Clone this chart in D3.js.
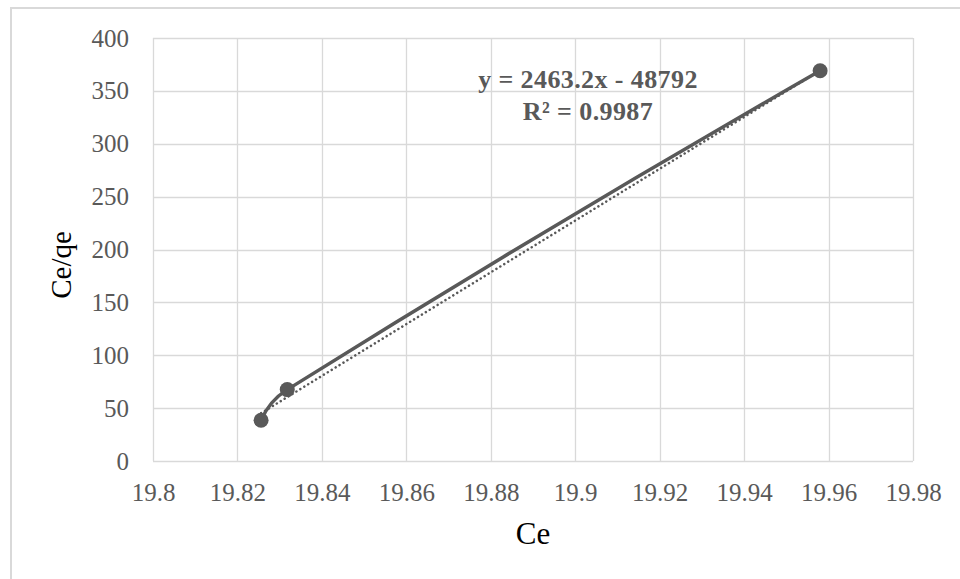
<!DOCTYPE html>
<html>
<head>
<meta charset="utf-8">
<script src="https://cdn.jsdelivr.net/npm/d3@7"></script>
<style>
  html, body { margin: 0; padding: 0; background: #fff; }
  svg { display: block; }
</style>
</head>
<body>
<svg id="chart" width="960" height="579"></svg>
<script>
// Data
const ceValues = [19.8256, 19.8318, 19.958];
const ceQeValues = [38.5, 67.5, 369];
const xTicks = [19.8, 19.82, 19.84, 19.86, 19.88, 19.9, 19.92, 19.94, 19.96, 19.98];
const yTicks = [0, 50, 100, 150, 200, 250, 300, 350, 400];
const equationLines = ["y = 2463.2x - 48792", "R² = 0.9987"];

const svg = d3.select("#chart");
const W = 960, H = 579;
const plot = { left: 153, top: 38, right: 913, bottom: 461 };
const grey = "#595959";
const font = "'Liberation Serif', 'Times New Roman', serif";

// Spreadsheet-style smoothing curve for d3.line
function SmoothCurve(context) { this._context = context; }
SmoothCurve.prototype = {
  areaStart() { this._line = 0; },
  areaEnd() { this._line = NaN; },
  lineStart() { this._p = []; },
  point(x, y) { this._p.push([+x, +y]); },
  lineEnd() {
    const p = this._p, n = p.length, ctx = this._context;
    if (!n) return;
    ctx.moveTo(p[0][0], p[0][1]);
    if (n === 1) return;
    const unit = v => { const l = Math.hypot(v[0], v[1]) || 1; return [v[0] / l, v[1] / l]; };
    const T = new Array(n);
    for (let i = 1; i < n - 1; i++) T[i] = unit([p[i + 1][0] - p[i - 1][0], p[i + 1][1] - p[i - 1][1]]);
    const reflect = (t, c) => { const d = t[0] * c[0] + t[1] * c[1]; return [2 * d * c[0] - t[0], 2 * d * c[1] - t[1]]; };
    if (n === 2) { T[0] = T[1] = unit([p[1][0] - p[0][0], p[1][1] - p[0][1]]); }
    else {
      T[0] = reflect(T[1], unit([p[1][0] - p[0][0], p[1][1] - p[0][1]]));
      T[n - 1] = reflect(T[n - 2], unit([p[n - 1][0] - p[n - 2][0], p[n - 1][1] - p[n - 2][1]]));
    }
    for (let i = 0; i < n - 1; i++) {
      const L = Math.hypot(p[i + 1][0] - p[i][0], p[i + 1][1] - p[i][1]) / 3;
      ctx.bezierCurveTo(p[i][0] + T[i][0] * L, p[i][1] + T[i][1] * L,
        p[i + 1][0] - T[i + 1][0] * L, p[i + 1][1] - T[i + 1][1] * L,
        p[i + 1][0], p[i + 1][1]);
    }
  }
};
const curveSmooth = context => new SmoothCurve(context);

// chart border
svg.append("rect").attr("x", 11).attr("y", 8).attr("width", W).attr("height", H)
  .attr("fill", "#fff").attr("stroke", "#d9d9d9").attr("stroke-width", 2);

const x = d3.scaleLinear().domain([19.8, 19.98]).range([plot.left, plot.right]);
const y = d3.scaleLinear().domain([0, 400]).range([plot.bottom, plot.top]);

// gridlines
const grid = svg.append("g");
grid.selectAll("line.v").data(xTicks).join("line")
  .attr("x1", d => Math.round(x(d)) + 0.5).attr("x2", d => Math.round(x(d)) + 0.5)
  .attr("y1", plot.top).attr("y2", plot.bottom)
  .attr("stroke", "#d9d9d9").attr("stroke-width", 1.3);
grid.selectAll("line.h").data(yTicks).join("line")
  .attr("y1", d => Math.round(y(d)) + 0.5).attr("y2", d => Math.round(y(d)) + 0.5)
  .attr("x1", plot.left).attr("x2", plot.right)
  .attr("stroke", "#d9d9d9").attr("stroke-width", 1.3);

// axes labels via d3 axes
const xAxis = d3.axisBottom(x).tickValues(xTicks).tickSize(0).tickPadding(22)
  .tickFormat(d => String(+d.toFixed(2)));
const gx = svg.append("g").attr("transform", `translate(0,${plot.bottom})`).call(xAxis);
gx.select(".domain").remove();
gx.selectAll("text").attr("fill", grey).style("font-family", font).style("font-size", "25px");

const yAxis = d3.axisLeft(y).tickValues(yTicks).tickSize(0).tickPadding(24)
  .tickFormat(d3.format("d"));
const gy = svg.append("g").attr("transform", `translate(${plot.left},0)`).call(yAxis);
gy.select(".domain").remove();
gy.selectAll("text").attr("fill", grey).style("font-family", font).style("font-size", "25px");

// axis titles
svg.append("text").attr("x", 533).attr("y", 544).attr("text-anchor", "middle")
  .style("font-family", font).style("font-size", "31px").attr("fill", "#000").text("Ce");
svg.append("text").attr("transform", "translate(71,265) rotate(-90)").attr("text-anchor", "middle")
  .style("font-family", font).style("font-size", "29px").attr("fill", "#000").text("Ce/qe");

const pts = ceValues.map((v, i) => [v, ceQeValues[i]]);

// linear trendline (least squares)
const mx = d3.mean(ceValues), my = d3.mean(ceQeValues);
const sxy = d3.sum(pts, p => (p[0] - mx) * (p[1] - my));
const sxx = d3.sum(pts, p => (p[0] - mx) ** 2);
const slope = sxy / sxx, intercept = my - slope * mx;
const tx = d3.extent(ceValues);
svg.append("line")
  .attr("x1", x(tx[0])).attr("y1", y(slope * tx[0] + intercept))
  .attr("x2", x(tx[1])).attr("y2", y(slope * tx[1] + intercept))
  .attr("stroke", grey).attr("stroke-width", 2.5).attr("stroke-linecap", "round")
  .attr("stroke-dasharray", "0.1 4.5");

// smoothed series line
const line = d3.line().x(d => x(d[0])).y(d => y(d[1])).curve(curveSmooth);
svg.append("path").datum(pts).attr("d", line)
  .attr("fill", "none").attr("stroke", grey).attr("stroke-width", 3.5).attr("stroke-linecap", "round");

svg.selectAll("circle.pt").data(pts).join("circle")
  .attr("cx", d => x(d[0])).attr("cy", d => y(d[1])).attr("r", 7.5)
  .attr("fill", grey);

// equation label
const eq = svg.append("text").attr("text-anchor", "middle")
  .style("font-family", font).style("font-size", "26px").style("font-weight", "bold")
  .style("letter-spacing", "0.4px").attr("fill", grey);
eq.selectAll("tspan").data(equationLines).join("tspan")
  .attr("x", 588).attr("y", (d, i) => 88 + i * 32).text(d => d);
</script>
</body>
</html>
